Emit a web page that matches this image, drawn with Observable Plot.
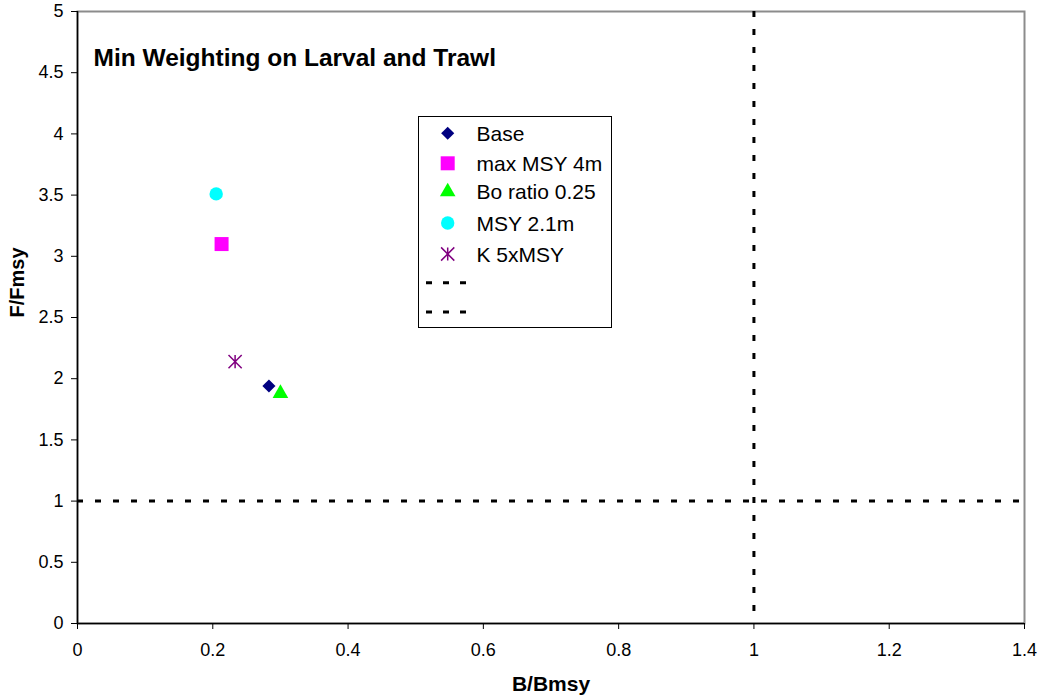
<!DOCTYPE html>
<html>
<head>
<meta charset="utf-8">
<script src="https://cdn.jsdelivr.net/npm/d3@7"></script>
<script src="https://cdn.jsdelivr.net/npm/@observablehq/plot@0.6"></script>
<style>
  html, body { margin: 0; padding: 0; background: #fff; }
  #wrap { position: relative; width: 1039px; height: 696px; font-family: "Liberation Sans", Arial, sans-serif; }
  #legend { position: absolute; left: 0; top: 0; }
</style>
</head>
<body>
<div id="wrap"></div>
<script>
// ---- data ----
const seriesNames = ["Base", "max MSY 4m", "Bo ratio 0.25", "MSY 2.1m", "K 5xMSY"];
const bRatio = [0.283, 0.213, 0.300, 0.205, 0.233];   // B/Bmsy
const fRatio = [1.94, 3.10, 1.88, 3.51, 2.14];         // F/Fmsy
const seriesColors = ["#000080", "#FF00FF", "#00FF00", "#00FFFF", "#800080"];
const xTicks = [0, 0.2, 0.4, 0.6, 0.8, 1, 1.2, 1.4];
const yTicks = [0, 0.5, 1, 1.5, 2, 2.5, 3, 3.5, 4, 4.5, 5];
const refB = [1];
const refF = [1];
const titleText = "Min Weighting on Larval and Trawl";
const xLabel = "B/Bmsy";
const yLabel = "F/Fmsy";

// ---- symbols ----
const asteriskX = {
  draw(ctx, size) {
    const r = Math.sqrt(size / Math.PI);
    ctx.moveTo(0, -r); ctx.lineTo(0, r);
    ctx.moveTo(-r, -r); ctx.lineTo(r, r);
    ctx.moveTo(-r, r); ctx.lineTo(r, -r);
  }
};
const seriesSymbols = [d3.symbolDiamond2, d3.symbolSquare, d3.symbolTriangle, d3.symbolCircle, asteriskX];
const seriesR = [5.9, 7.9, 5.8, 6.7, 6.6];
const seriesFilled = [true, true, true, true, false];

const idx = d3.range(seriesNames.length);

const dotMarks = idx.map(i => Plot.dot([i], {
  x: j => bRatio[j],
  y: j => fRatio[j],
  symbol: seriesSymbols[i],
  r: seriesR[i],
  fill: seriesFilled[i] ? seriesColors[i] : "none",
  stroke: seriesFilled[i] ? "none" : seriesColors[i],
  strokeWidth: 1.5
}));

const chart = Plot.plot({
  width: 1039,
  height: 696,
  marginLeft: 77,
  marginRight: 15,
  marginTop: 11,
  marginBottom: 73,
  style: { fontFamily: "'Liberation Sans', Arial, sans-serif", fontSize: "18px", color: "#000", background: "#fff" },
  x: { domain: [0, 1.4] },
  y: { domain: [0, 5] },
  marks: [
    Plot.frame({ stroke: "#8c8c8c", strokeWidth: 2 }),
    Plot.ruleX(refB, { stroke: "#000", strokeWidth: 3, strokeDasharray: "6,12" }),
    Plot.ruleY(refF, { stroke: "#000", strokeWidth: 3, strokeDasharray: "6,12" }),
    Plot.ruleX([0], { stroke: "#000", strokeWidth: 1.5 }),
    Plot.ruleY([0], { stroke: "#000", strokeWidth: 1.5 }),
    Plot.axisX({ ticks: xTicks, tickSize: 6, tickPadding: 14, tickFormat: d => String(d), label: null, fontSize: 18 }),
    Plot.axisY({ ticks: yTicks, tickSize: 6, tickPadding: 8, tickFormat: d => String(d), label: null, fontSize: 18 }),
    ...dotMarks,
    Plot.text([titleText], { frameAnchor: "top-left", dx: 16, dy: 54, textAnchor: "start", lineAnchor: "bottom", fontWeight: "bold", fontSize: 24.5, text: d => d }),
    Plot.text([xLabel], { frameAnchor: "bottom", dy: 67, lineAnchor: "bottom", fontWeight: "bold", fontSize: 21, text: d => d }),
    Plot.text([yLabel], { frameAnchor: "left", dx: -68, rotate: -90, lineAnchor: "top", fontWeight: "bold", fontSize: 20, text: d => d })
  ]
});
document.getElementById("wrap").appendChild(chart);

// ---- legend (overlay) ----
const legendRowsY = [133.3, 163.3, 191.7, 223, 254, 282.7, 312];
const lg = d3.select("#wrap").append("svg")
  .attr("id", "legend")
  .attr("width", 1039).attr("height", 696)
  .style("pointer-events", "none");
lg.append("rect")
  .attr("x", 418.5).attr("y", 116.5).attr("width", 193).attr("height", 211)
  .attr("fill", "#fff").attr("stroke", "#000").attr("stroke-width", 1);
idx.forEach(i => {
  const g = lg.append("g").attr("transform", `translate(447.7,${legendRowsY[i]})`);
  const size = Math.PI * seriesR[i] * seriesR[i];
  g.append("path")
    .attr("d", d3.symbol(seriesSymbols[i], size)())
    .attr("fill", seriesFilled[i] ? seriesColors[i] : "none")
    .attr("stroke", seriesFilled[i] ? "none" : seriesColors[i])
    .attr("stroke-width", 1.5);
  lg.append("text")
    .attr("x", 476.5).attr("y", legendRowsY[i]).attr("dy", "0.36em")
    .attr("font-family", "'Liberation Sans', Arial, sans-serif")
    .attr("font-size", 21)
    .attr("fill", "#000")
    .text(seriesNames[i]);
});
[5, 6].forEach(k => {
  lg.append("line")
    .attr("x1", 426).attr("x2", 466)
    .attr("y1", legendRowsY[k]).attr("y2", legendRowsY[k])
    .attr("stroke", "#000").attr("stroke-width", 3)
    .attr("stroke-dasharray", "6,11");
});
</script>
</body>
</html>
